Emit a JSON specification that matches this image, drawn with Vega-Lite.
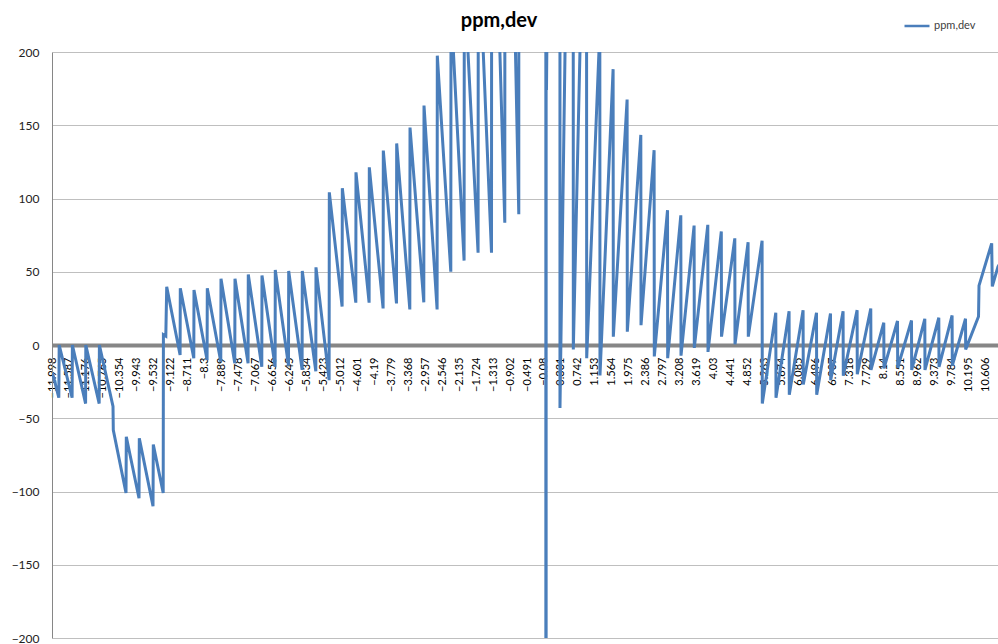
{
  "$schema": "https://vega.github.io/schema/vega-lite/v6.json",
  "width": 946,
  "height": 586,
  "autosize": {"type": "none"},
  "padding": {"left": 52, "top": 52, "right": 0, "bottom": 6},
  "background": "white",
  "config": {"view": {"stroke": null}},
  "title": {"text": "ppm,dev", "font": "Lato", "fontSize": 20, "fontWeight": "bold", "color": "#000000", "anchor": "middle", "dx": -26, "offset": -19},
  "data": {"values": [
    {"x": -11.986, "y": -19}, {"x": -11.833, "y": -36}, {"x": -11.824, "y": 0}, {"x": -11.511, "y": -36}, {"x": -11.504, "y": 0},
    {"x": -11.184, "y": -40}, {"x": -11.179, "y": 0}, {"x": -10.855, "y": -40}, {"x": -10.85, "y": 0}, {"x": -10.52, "y": -42},
    {"x": -10.513, "y": -58}, {"x": -10.205, "y": -101}, {"x": -10.198, "y": -62.6}, {"x": -9.89, "y": -104.6}, {"x": -9.883, "y": -63.6},
    {"x": -9.551, "y": -110}, {"x": -9.544, "y": -68}, {"x": -9.304, "y": -101}, {"x": -9.299, "y": 7}, {"x": -9.241, "y": 6},
    {"x": -9.219, "y": 39.8}, {"x": -8.895, "y": -6.8}, {"x": -8.89, "y": 38.7}, {"x": -8.563, "y": -9}, {"x": -8.558, "y": 37.5},
    {"x": -8.241, "y": -10.2}, {"x": -8.236, "y": 38.7}, {"x": -7.909, "y": -11.4}, {"x": -7.904, "y": 45.2}, {"x": -7.57, "y": -12.5},
    {"x": -7.565, "y": 45.2}, {"x": -7.248, "y": -12.5}, {"x": -7.243, "y": 48.2}, {"x": -6.916, "y": -14.8}, {"x": -6.911, "y": 47.5},
    {"x": -6.593, "y": -14.8}, {"x": -6.589, "y": 51.2}, {"x": -6.269, "y": -14}, {"x": -6.264, "y": 50.5}, {"x": -5.939, "y": -17},
    {"x": -5.935, "y": 50.5}, {"x": -5.607, "y": -18}, {"x": -5.603, "y": 53}, {"x": -5.285, "y": -24}, {"x": -5.28, "y": 104.2},
    {"x": -4.97, "y": 26.2}, {"x": -4.965, "y": 107}, {"x": -4.638, "y": 28.9}, {"x": -4.634, "y": 117.9}, {"x": -4.316, "y": 28.9},
    {"x": -4.311, "y": 121.3}, {"x": -3.977, "y": 25}, {"x": -3.972, "y": 132.7}, {"x": -3.653, "y": 28.4}, {"x": -3.648, "y": 137.6},
    {"x": -3.33, "y": 24.3}, {"x": -3.325, "y": 148.4}, {"x": -2.991, "y": 29.1}, {"x": -2.986, "y": 163.4}, {"x": -2.669, "y": 24.3},
    {"x": -2.664, "y": 197.5}, {"x": -2.337, "y": 50}, {"x": -2.332, "y": 232}, {"x": -2.015, "y": 57.6}, {"x": -2.01, "y": 250},
    {"x": -1.676, "y": 63}, {"x": -1.671, "y": 282}, {"x": -1.351, "y": 63}, {"x": -1.346, "y": 394}, {"x": -1.029, "y": 83.5},
    {"x": -1.024, "y": 550}, {"x": -0.69, "y": 89.2}, {"x": -0.685, "y": 1500}, {"x": -0.363, "y": 700}, {"x": -0.358, "y": 3000},
    {"x": -0.036, "y": 2000}, {"x": -0.031, "y": -5000}, {"x": -0.024, "y": 5000}, {"x": -0.019, "y": 174},
    {"x": 0.304, "y": 1200}, {"x": 0.308, "y": -43}, {"x": 0.626, "y": 590}, {"x": 0.631, "y": -3}, {"x": 0.95, "y": 400},
    {"x": 0.955, "y": -9}, {"x": 1.273, "y": 215}, {"x": 1.277, "y": -20.8}, {"x": 1.595, "y": 188.3}, {"x": 1.6, "y": 5.7},
    {"x": 1.934, "y": 167.5}, {"x": 1.939, "y": 9.1}, {"x": 2.266, "y": 143.4}, {"x": 2.271, "y": 13.5}, {"x": 2.588, "y": 133},
    {"x": 2.593, "y": -7.8}, {"x": 2.913, "y": 92}, {"x": 2.917, "y": -9}, {"x": 3.235, "y": 88.5}, {"x": 3.24, "y": -7.3},
    {"x": 3.557, "y": 81.5}, {"x": 3.562, "y": -2}, {"x": 3.889, "y": 82}, {"x": 3.894, "y": -4.7}, {"x": 4.216, "y": 77.5},
    {"x": 4.221, "y": 5.7}, {"x": 4.543, "y": 72.8}, {"x": 4.548, "y": 0.5}, {"x": 4.865, "y": 70.1}, {"x": 4.87, "y": 5.7},
    {"x": 5.204, "y": 71.2}, {"x": 5.209, "y": -40}, {"x": 5.536, "y": 22}, {"x": 5.541, "y": -36}, {"x": 5.858, "y": 23.1},
    {"x": 5.863, "y": -34}, {"x": 6.197, "y": 23.8}, {"x": 6.202, "y": -27}, {"x": 6.522, "y": 22}, {"x": 6.527, "y": -34},
    {"x": 6.861, "y": 21.5}, {"x": 6.866, "y": -24}, {"x": 7.166, "y": 23.1}, {"x": 7.171, "y": -21}, {"x": 7.506, "y": 23.8},
    {"x": 7.51, "y": -20}, {"x": 7.837, "y": 24.9}, {"x": 7.842, "y": -17}, {"x": 8.152, "y": 15.2}, {"x": 8.157, "y": -16},
    {"x": 8.484, "y": 16.4}, {"x": 8.489, "y": -15.5}, {"x": 8.823, "y": 16.8}, {"x": 8.828, "y": -17}, {"x": 9.146, "y": 17.9},
    {"x": 9.15, "y": -17}, {"x": 9.485, "y": 18.6}, {"x": 9.49, "y": -15}, {"x": 9.807, "y": 20.2}, {"x": 9.812, "y": -14},
    {"x": 10.132, "y": 17.9}, {"x": 10.136, "y": -3}, {"x": 10.447, "y": 19.5}, {"x": 10.459, "y": 40.5}, {"x": 10.766, "y": 69.4},
    {"x": 10.781, "y": 40}, {"x": 10.919, "y": 53.5}, {"x": 11.016, "y": 58}
  ]},
  "mark": {"type": "line", "clip": true, "strokeWidth": 3},
  "encoding": {
    "x": {
      "field": "x", "type": "quantitative",
      "scale": {"domain": [-11.998, 10.919], "nice": false, "zero": false},
      "axis": {
        "values": [-11.998, -11.587, -11.176, -10.765, -10.354, -9.943, -9.532, -9.122, -8.711, -8.3, -7.889, -7.478, -7.067, -6.656, -6.245, -5.834, -5.423, -5.012, -4.601, -4.19, -3.779, -3.368, -2.957, -2.546, -2.135, -1.724, -1.313, -0.902, -0.491, -0.08, 0.331, 0.742, 1.153, 1.564, 1.975, 2.386, 2.797, 3.208, 3.619, 4.03, 4.441, 4.852, 5.263, 5.674, 6.085, 6.496, 6.907, 7.318, 7.729, 8.14, 8.551, 8.962, 9.373, 9.784, 10.195, 10.606],
        "format": ".3~f",
        "labelAngle": -90,
        "offset": -293,
        "domainColor": "#868686",
        "domainWidth": 4,
        "ticks": false,
        "grid": false,
        "title": null,
        "labelPadding": 12,
        "labelFont": "Lato",
        "labelFontSize": 11,
        "labelColor": "#000000",
        "labelOverlap": false,
        "labelFlush": false,
        "labelBound": false
      }
    },
    "y": {
      "field": "y", "type": "quantitative",
      "scale": {"domain": [-200, 200], "nice": false, "zero": false},
      "axis": {
        "values": [-200, -150, -100, -50, 0, 50, 100, 150, 200],
        "title": null,
        "grid": true,
        "gridColor": "#bfbfbf",
        "gridWidth": 1,
        "domainColor": "#868686",
        "ticks": false,
        "labelPadding": 13,
        "labelFont": "Lato",
        "labelFontSize": 12,
        "labelColor": "#222222"
      }
    },
    "color": {
      "datum": "ppm,dev", "type": "nominal",
      "scale": {"range": ["#4a7ebb"]},
      "legend": {
        "title": null, "orient": "none", "legendX": 851, "legendY": -40,
        "symbolType": "stroke", "symbolSize": 625, "symbolStrokeWidth": 2.5,
        "labelFont": "Lato", "labelFontSize": 11, "labelColor": "#404040",
        "padding": 0, "labelOffset": 3
      }
    }
  }
}
